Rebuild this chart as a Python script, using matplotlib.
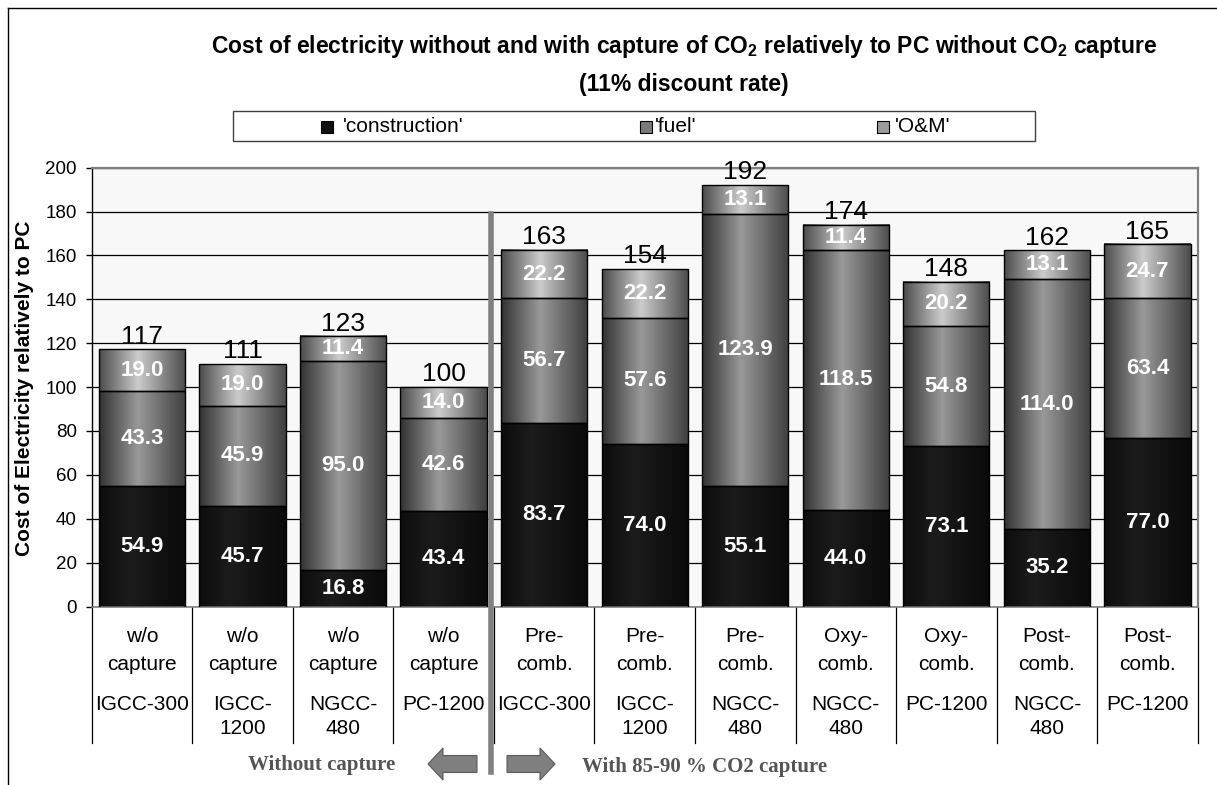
import numpy as np
import matplotlib
matplotlib.use("Agg")
import matplotlib.pyplot as plt
import matplotlib.transforms as mtransforms
from matplotlib.patches import Rectangle, FancyArrow
from matplotlib.lines import Line2D

# ---------------- data ----------------
top_line = ["w/o", "w/o", "w/o", "w/o", "Pre-", "Pre-", "Pre-", "Oxy-", "Oxy-", "Post-", "Post-"]
second_line = ["capture", "capture", "capture", "capture", "comb.", "comb.", "comb.",
               "comb.", "comb.", "comb.", "comb."]
plant = ["IGCC-300", "IGCC-\n1200", "NGCC-\n480", "PC-1200", "IGCC-300", "IGCC-\n1200",
         "NGCC-\n480", "NGCC-\n480", "PC-1200", "NGCC-\n480", "PC-1200"]
construction = [54.9, 45.7, 16.8, 43.4, 83.7, 74.0, 55.1, 44.0, 73.1, 35.2, 77.0]
fuel = [43.3, 45.9, 95.0, 42.6, 56.7, 57.6, 123.9, 118.5, 54.8, 114.0, 63.4]
om = [19.0, 19.0, 11.4, 14.0, 22.2, 22.2, 13.1, 11.4, 20.2, 13.1, 24.7]
totals = [117, 111, 123, 100, 163, 154, 192, 174, 148, 162, 165]
series_names = ["'construction'", "'fuel'", "'O&M'"]
yticks = [0, 20, 40, 60, 80, 100, 120, 140, 160, 180, 200]

# ---------------- figure ----------------
W, H = 1217, 785
fig = plt.figure(figsize=(W / 100, H / 100), dpi=100)
fig.patch.set_facecolor("white")
plt.rcParams["font.family"] = ["Liberation Sans", "DejaVu Sans"]

px = mtransforms.Affine2D().scale(1 / W, -1 / H).translate(0, 1) + fig.transFigure

ax_l, ax_r, ax_t, ax_b = 91.7, 1197.7, 167.7, 606.5
ax = fig.add_axes([ax_l / W, 1 - ax_b / H, (ax_r - ax_l) / W, (ax_b - ax_t) / H])
ax.set_facecolor("#f8f8f8")

n = len(construction)
x = np.arange(n)
bw = 0.858

def gradient(stops, npts=64):
    pos = np.array([s[0] for s in stops])
    val = np.array([s[1] for s in stops])
    g = np.interp(np.linspace(0, 1, npts), pos, val)
    return np.dstack([g, g, g])[None, 0, :, :]

grads = [
    gradient([(0, 0.05), (0.35, 0.11), (0.7, 0.07), (1, 0.04)]),
    gradient([(0, 0.20), (0.45, 0.60), (1, 0.25)]),
    gradient([(0, 0.30), (0.45, 0.80), (1, 0.30)]),
]

bottoms = np.zeros(n)
for vals, grad in zip([construction, fuel, om], grads):
    bars = ax.bar(x, vals, bw, bottom=bottoms, facecolor="none", edgecolor="black",
                  linewidth=1.0, zorder=3)
    for rect, v in zip(bars, vals):
        x0, y0 = rect.get_x(), rect.get_y()
        ax.imshow(grad, extent=(x0, x0 + rect.get_width(), y0, y0 + rect.get_height()),
                  aspect="auto", interpolation="bilinear", zorder=2)
        ax.text(x0 + rect.get_width() / 2, y0 + rect.get_height() / 2, f"{v:.1f}",
                color="white", fontsize=16, fontweight="bold", ha="center", va="center",
                zorder=4)
    bottoms = bottoms + np.array(vals)

for i, t in enumerate(totals):
    ax.annotate(f"{t}", xy=(i, bottoms[i]), xytext=(0, 0.5), textcoords="offset points",
                ha="center", va="bottom", fontsize=19, zorder=4)

ax.set_xlim(-0.5, n - 0.5)
ax.set_ylim(0, 200)
ax.set_yticks(yticks)
ax.set_xticks([])
ax.tick_params(axis="y", direction="out", length=4.3, width=1, pad=6.5, labelsize=13.5,
               colors="black")
ax.set_axisbelow(True)
ax.yaxis.grid(True, color="black", linewidth=0.9)
for s in ["top", "right"]:
    ax.spines[s].set_color("#808080")
    ax.spines[s].set_linewidth(1.6)
ax.spines["left"].set_color("black")
ax.spines["left"].set_linewidth(1.0)
ax.spines["bottom"].set_color("#808080")
ax.spines["bottom"].set_linewidth(1.2)

# category table
tab_depth = (743 - ax_b) / (ax_b - ax_t)
xt = ax.get_xaxis_transform()
for b in np.arange(-0.5, n, 1.0):
    ax.add_line(Line2D([b, b], [0, -tab_depth], transform=xt, color="black",
                       linewidth=0.9, clip_on=False))
for i in range(n):
    for txt, off in [(top_line[i], 30.2), (second_line[i], 57.5)]:
        ax.annotate(txt, xy=(i, 0), xycoords=xt, xytext=(0, -off * 0.72),
                    textcoords="offset points", ha="center", va="center", fontsize=15,
                    annotation_clip=False)
    for k, part in enumerate(plant[i].split("\n")):
        ax.annotate(part, xy=(i, 0), xycoords=xt, xytext=(0, -(97.5 + 24 * k) * 0.72),
                    textcoords="offset points", ha="center", va="center", fontsize=15,
                    annotation_clip=False)

# y label
fig.text(25, 388.5, "Cost of Electricity relatively to PC", transform=px, rotation=90,
         ha="center", va="center", fontsize=15, fontweight="bold")

# title
fig.text(684, 47, r"Cost of electricity without and with capture of CO$_\mathregular{2}$ "
         r"relatively to PC without CO$_\mathregular{2}$ capture", transform=px,
         ha="center", va="center", fontsize=16.5, fontweight="bold")
fig.text(684, 85, "(11% discount rate)", transform=px, ha="center", va="center",
         fontsize=16.5, fontweight="bold")

# legend (manual)
fig.add_artist(Rectangle((233, 111), 802, 30, transform=px, facecolor="white",
                         edgecolor="#404040", linewidth=1.0))
leg_colors = ["#111111", "#7a7a7a", "#9a9a9a"]
for name, col, mx, tx in zip(series_names, leg_colors, [327, 646, 883], [343, 655, 895]):
    fig.add_artist(Rectangle((mx - 6, 121), 12, 12, transform=px, facecolor=col,
                             edgecolor="black", linewidth=0.8))
    fig.text(tx, 127, name, transform=px, ha="left", va="center", fontsize=15)

# divider and arrows
div_x = 3.5 - 0.03
ax.add_line(Line2D([div_x, div_x], [(ax_b - 214) / (ax_b - ax_t), -(772 - ax_b) / (ax_b - ax_t)],
                   transform=xt, color="#808080", linewidth=4.0, clip_on=False, zorder=5))
for x0, dx in [(477, -49), (507, 48)]:
    fig.add_artist(FancyArrow(x0, 764, dx, 0, width=17, head_width=32, head_length=15,
                              length_includes_head=True, transform=px,
                              facecolor="#7f7f7f", edgecolor="#5a5a5a", linewidth=0.8))
fig.text(322, 765, "Without capture", transform=px, ha="center", va="center",
         fontsize=15, fontweight="bold", family="Liberation Serif", color="#555555")
fig.text(582, 767, "With 85-90 % CO2 capture", transform=px, ha="left", va="center",
         fontsize=15, fontweight="bold", family="Liberation Serif", color="#555555")

# outer frame
fig.add_artist(Line2D([8, 8], [8, 785], transform=px, color="black", linewidth=1.0))
fig.add_artist(Line2D([8, 1217], [8, 8], transform=px, color="black", linewidth=1.0))

fig.savefig("out.png", dpi=100)
